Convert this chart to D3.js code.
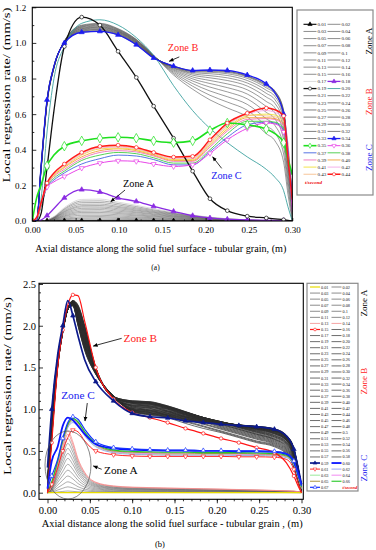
<!DOCTYPE html>
<html>
<head>
<meta charset="utf-8">
<script src="https://cdn.jsdelivr.net/npm/d3@7/dist/d3.min.js"></script>
<style>
	body { margin: 0; background: #fff; }
	svg, svg text { font-family: "Liberation Serif", "Times New Roman", serif; }
</style>
</head>
<body>
<svg id="fig" width="376" height="550" font-family="Liberation Serif"></svg>
<script>
// ---------- (a) ----------
var xA = [0, 0.005, 0.01, 0.017, 0.025, 0.037, 0.057, 0.078, 0.099, 0.12, 0.14, 0.163, 0.185, 0.205, 0.225, 0.248, 0.27, 0.28, 0.29, 0.295, 0.3];
var labelsA = ['0.01','0.02','0.03','0.04','0.05','0.06','0.07','0.08','0.09','0.1','0.11','0.12','0.13','0.14','0.15','0.16','0.17','0.18','0.19','0.20','0.21','0.22','0.23','0.24','0.25','0.26','0.27','0.28','0.29','0.30','0.31','0.32','0.33','0.34','0.35','0.36','0.37','0.38','0.39','0.40','0.41','0.42','0.43','0.44'];
// 0.01 .. 0.18 s
var rateA_zoneA = [
	[0,0,0,0,0,0.001,0.001,0.001,0.001,0.001,0.001,0,0,0,0,0,0,0,0,0,0],
	[0,0,0,0,0.001,0.003,0.005,0.005,0.004,0.004,0.003,0.002,0.001,0.001,0,0,0,0,0,0,0],
	[0,0,0,0.001,0.002,0.007,0.011,0.011,0.009,0.008,0.006,0.004,0.003,0.002,0.001,0,0,0,0,0,0],
	[0,0,0,0.001,0.004,0.011,0.017,0.018,0.015,0.013,0.01,0.007,0.005,0.003,0.002,0.001,0,0,0,0,0],
	[0,0,0,0.001,0.005,0.015,0.024,0.025,0.021,0.018,0.014,0.01,0.007,0.004,0.003,0.001,0,0,0,0,0],
	[0,0,0,0.002,0.007,0.02,0.032,0.032,0.028,0.023,0.018,0.013,0.009,0.006,0.003,0.002,0,0,0,0,0],
	[0,0,0,0.002,0.008,0.025,0.04,0.04,0.035,0.029,0.023,0.016,0.011,0.007,0.004,0.002,0.001,0,0,0,0],
	[0,0,0,0.002,0.01,0.029,0.048,0.048,0.042,0.034,0.027,0.02,0.013,0.008,0.005,0.002,0.001,0,0,0,0],
	[0,0,0,0.003,0.011,0.034,0.055,0.056,0.048,0.04,0.031,0.023,0.015,0.01,0.006,0.003,0.001,0,0,0,0],
	[0,0,0,0.003,0.013,0.039,0.063,0.064,0.055,0.046,0.036,0.026,0.018,0.011,0.007,0.003,0.001,0,0,0,0],
	[0,0,0,0.004,0.015,0.044,0.071,0.072,0.062,0.051,0.04,0.029,0.02,0.012,0.007,0.004,0.001,0,0,0,0],
	[0,0,0,0.004,0.016,0.049,0.079,0.079,0.069,0.057,0.045,0.032,0.022,0.014,0.008,0.004,0.002,0.001,0,0,0],
	[0,0,0,0.004,0.018,0.053,0.086,0.087,0.076,0.062,0.049,0.036,0.024,0.015,0.009,0.004,0.002,0.001,0,0,0],
	[0,0,0,0.005,0.019,0.058,0.094,0.095,0.082,0.068,0.053,0.039,0.026,0.016,0.01,0.005,0.002,0.001,0,0,0],
	[0,0,0,0.005,0.021,0.064,0.103,0.104,0.09,0.074,0.058,0.042,0.029,0.018,0.011,0.005,0.002,0.001,0.001,0,0],
	[0,0,0,0.006,0.023,0.069,0.112,0.113,0.098,0.081,0.063,0.046,0.031,0.02,0.012,0.006,0.002,0.001,0.001,0,0],
	[0,0,0,0.006,0.025,0.075,0.121,0.123,0.106,0.088,0.069,0.05,0.034,0.021,0.013,0.006,0.003,0.001,0.001,0,0],
	[0,0,0.005,0.03,0.07,0.13,0.176,0.163,0.13,0.11,0.082,0.054,0.03,0.017,0.01,0.006,0.004,0.003,0.002,0.001,0]
];
// 0.19 .. 0.34 s
var rateA_zoneB = [
	[0,0,0.04,0.3,0.62,0.98,1.145,1.1,0.953,0.806,0.645,0.465,0.28,0.125,0.058,0.027,0.017,0.012,0.007,0.004,0],
	[0,0,0.12,0.5,0.8,0.98,1.11,1.13,1.1,1.03,0.93,0.76,0.62,0.52,0.44,0.36,0.29,0.245,0.17,0.08,0],
	[0,0,0.28,0.66,0.86,1.01,1.1,1.11,1.08,1.02,0.93,0.82,0.74,0.68,0.635,0.585,0.49,0.45,0.33,0.15,0],
	[0,0,0.28,0.66,0.86,1.01,1.097,1.106,1.077,1.018,0.929,0.828,0.757,0.706,0.668,0.622,0.534,0.495,0.376,0.19,0.019],
	[0,0,0.28,0.663,0.86,1.009,1.093,1.103,1.074,1.015,0.928,0.835,0.772,0.73,0.698,0.655,0.574,0.536,0.419,0.226,0.037],
	[0,0,0.285,0.665,0.862,1.008,1.09,1.099,1.071,1.013,0.926,0.842,0.786,0.752,0.725,0.686,0.61,0.573,0.457,0.259,0.053],
	[0,0,0.285,0.667,0.863,1.007,1.087,1.095,1.068,1.01,0.925,0.848,0.798,0.772,0.749,0.713,0.643,0.606,0.491,0.289,0.067],
	[0,0,0.29,0.668,0.864,1.006,1.083,1.091,1.065,1.008,0.924,0.853,0.809,0.789,0.77,0.737,0.671,0.635,0.521,0.315,0.079],
	[0,0,0.29,0.67,0.865,1.005,1.08,1.088,1.063,1.005,0.923,0.858,0.819,0.804,0.789,0.758,0.696,0.66,0.548,0.338,0.09],
	[0,0,0.29,0.672,0.866,1.004,1.077,1.084,1.06,1.003,0.921,0.861,0.827,0.816,0.804,0.775,0.717,0.681,0.57,0.357,0.099],
	[0,0,0.295,0.673,0.867,1.003,1.073,1.08,1.057,1.0,0.92,0.864,0.833,0.827,0.817,0.789,0.734,0.699,0.588,0.372,0.107],
	[0,0,0.295,0.675,0.868,1.002,1.07,1.076,1.054,0.998,0.919,0.867,0.838,0.835,0.827,0.801,0.748,0.713,0.602,0.384,0.113],
	[0,0,0.3,0.677,0.869,1.002,1.067,1.073,1.051,0.995,0.918,0.869,0.842,0.84,0.834,0.809,0.757,0.722,0.612,0.393,0.117],
	[0,0,0.3,0.678,0.87,1.001,1.063,1.069,1.048,0.993,0.916,0.87,0.844,0.844,0.839,0.813,0.763,0.728,0.618,0.398,0.119],
	[0,0,0.3,0.68,0.87,1.0,1.06,1.065,1.045,0.99,0.915,0.87,0.845,0.845,0.84,0.815,0.765,0.73,0.62,0.4,0.12],
	[0,0,0.3,0.68,0.87,1.0,1.06,1.065,1.045,0.99,0.915,0.87,0.845,0.848,0.845,0.82,0.77,0.72,0.6,0.39,0.13]
];
// 0.35 .. 0.44 s
var rateA_zoneC = [
	[0,0.13,0.2,0.31,0.37,0.42,0.45,0.465,0.47,0.465,0.45,0.44,0.45,0.508,0.55,0.54,0.516,0.49,0.44,0.35,0.26],
	[0,0.02,0.1,0.19,0.22,0.25,0.297,0.325,0.338,0.335,0.32,0.306,0.316,0.38,0.456,0.52,0.55,0.545,0.5,0.38,0.05],
	[0,0.01,0.08,0.19,0.23,0.27,0.32,0.35,0.37,0.365,0.345,0.315,0.315,0.39,0.47,0.54,0.555,0.55,0.51,0.38,0.08],
	[0,0.01,0.085,0.195,0.24,0.28,0.34,0.37,0.385,0.378,0.355,0.325,0.325,0.4,0.49,0.56,0.56,0.555,0.52,0.38,0.08],
	[0,0.01,0.09,0.2,0.25,0.29,0.35,0.385,0.395,0.388,0.365,0.335,0.335,0.415,0.505,0.57,0.575,0.57,0.535,0.4,0.09],
	[0,0.012,0.09,0.2,0.255,0.3,0.36,0.395,0.405,0.395,0.37,0.34,0.34,0.425,0.515,0.58,0.58,0.575,0.545,0.41,0.09],
	[0,0.015,0.095,0.205,0.26,0.305,0.37,0.405,0.41,0.4,0.375,0.345,0.345,0.435,0.525,0.59,0.6,0.595,0.56,0.42,0.1],
	[0,0.015,0.095,0.205,0.265,0.31,0.375,0.41,0.415,0.405,0.378,0.35,0.35,0.44,0.535,0.6,0.62,0.61,0.575,0.43,0.1],
	[0,0.018,0.1,0.21,0.268,0.315,0.38,0.415,0.42,0.408,0.38,0.355,0.355,0.445,0.54,0.595,0.59,0.585,0.56,0.43,0.1],
	[0,0.02,0.1,0.213,0.27,0.32,0.385,0.419,0.426,0.413,0.385,0.359,0.363,0.456,0.55,0.605,0.634,0.625,0.59,0.35,0.12]
];
var xTicksA = [0, 0.05, 0.1, 0.15, 0.2, 0.25, 0.3];
var yTicksA = [0, 0.2, 0.4, 0.6, 0.8, 1.0, 1.2];

// ---------- (b) ----------
var xB = [0, 0.005, 0.012, 0.018, 0.024, 0.03, 0.036, 0.044, 0.057, 0.078, 0.1, 0.121, 0.142, 0.163, 0.184, 0.205, 0.226, 0.247, 0.268, 0.282, 0.291, 0.296, 0.3];
var labelsB = ['0.01','0.02','0.03','0.04','0.05','0.06','0.07','0.08','0.09','0.1','0.11','0.12','0.13','0.14','0.15','0.16','0.17','0.18','0.19','0.20','0.21','0.22','0.23','0.24','0.25','0.26','0.27','0.28','0.29','0.30','0.31','0.32','0.33','0.34','0.35','0.36','0.37','0.38','0.39','0.40','0.41','0.42','0.43','0.44','0.45','0.46','0.47','0.48','0.49','0.5','0.51','0.52','0.53','0.54','0.55','0.56','0.57','0.58','0.59','0.60','0.61','0.62','0.63','0.64','0.65','0.66','0.67'];
// 0.01 .. 0.14 s
var rateB_zoneA = [
	[0,0,0,0,0,0,0,0,0,0,0,0,0,0,0,0,0,0,0,0,0,0,0],
	[0,0.002,0.009,0.015,0.02,0.016,0.011,0.007,0.003,0.002,0.002,0.002,0.002,0.001,0.001,0.001,0.001,0.001,0.001,0.001,0,0,0],
	[0,0.007,0.032,0.053,0.07,0.057,0.039,0.023,0.012,0.008,0.006,0.006,0.005,0.005,0.004,0.004,0.004,0.003,0.003,0.002,0.002,0.001,0.001],
	[0,0.013,0.059,0.098,0.13,0.107,0.072,0.043,0.022,0.014,0.012,0.011,0.01,0.009,0.008,0.008,0.007,0.006,0.005,0.004,0.003,0.002,0.001],
	[0,0.02,0.09,0.15,0.2,0.164,0.11,0.066,0.034,0.022,0.018,0.016,0.015,0.014,0.013,0.012,0.01,0.009,0.007,0.006,0.005,0.004,0.002],
	[0,0.027,0.122,0.203,0.27,0.221,0.149,0.089,0.046,0.03,0.024,0.022,0.021,0.019,0.017,0.016,0.014,0.012,0.01,0.008,0.007,0.005,0.003],
	[0,0.034,0.153,0.255,0.34,0.279,0.187,0.112,0.058,0.037,0.031,0.028,0.026,0.024,0.022,0.02,0.018,0.015,0.013,0.01,0.009,0.006,0.003],
	[0,0.041,0.185,0.308,0.41,0.336,0.226,0.135,0.07,0.045,0.037,0.034,0.031,0.029,0.026,0.024,0.021,0.018,0.015,0.012,0.01,0.007,0.004],
	[0,0.047,0.212,0.353,0.47,0.385,0.259,0.155,0.08,0.052,0.042,0.039,0.036,0.033,0.03,0.027,0.024,0.021,0.017,0.014,0.012,0.008,0.005],
	[0,0.053,0.239,0.398,0.53,0.435,0.292,0.175,0.09,0.058,0.048,0.043,0.04,0.037,0.034,0.031,0.028,0.024,0.02,0.016,0.013,0.01,0.005],
	[0,0.059,0.266,0.443,0.59,0.484,0.325,0.195,0.1,0.065,0.053,0.048,0.045,0.041,0.038,0.034,0.031,0.027,0.022,0.018,0.015,0.011,0.006],
	[0,0.065,0.293,0.488,0.65,0.533,0.358,0.215,0.111,0.072,0.059,0.053,0.049,0.046,0.042,0.038,0.034,0.029,0.024,0.02,0.016,0.012,0.007],
	[0,0.07,0.315,0.525,0.7,0.574,0.385,0.231,0.119,0.077,0.063,0.057,0.053,0.049,0.045,0.041,0.036,0.032,0.026,0.021,0.018,0.013,0.007],
	[0,0.074,0.333,0.555,0.74,0.607,0.407,0.244,0.126,0.081,0.067,0.061,0.056,0.052,0.047,0.043,0.038,0.033,0.027,0.022,0.019,0.013,0.007]
];
// 0.15 .. 0.59 s
var rateB_zoneB = [
	[0,0.6,1.5,1.95,2.25,2.37,2.36,2.05,1.5,1.12,0.96,0.9,0.84,0.77,0.71,0.65,0.6,0.54,0.48,0.36,0.2,0.08,0],
	[0,.65,1.5,1.92,2.2,2.3,2.25,2.0,1.5,1.14,1.0,.96,.9,.83,.77,.72,.66,.6,.55,.46,.3,.12,0],
	[0,.66,1.5,1.92,2.2,2.3,2.24,1.99,1.5,1.14,1.01,.98,.92,.85,.79,.73,.67,.61,.56,.47,.31,.13,0],
	[0,.66,1.51,1.92,2.2,2.3,2.24,1.99,1.5,1.14,1.03,.99,.93,.86,.8,.74,.68,.62,.57,.48,.32,.13,0],
	[.01,.67,1.51,1.92,2.2,2.3,2.23,1.98,1.49,1.14,1.04,1.01,.95,.88,.82,.76,.7,.64,.58,.49,.33,.14,0],
	[.01,.68,1.51,1.92,2.2,2.29,2.23,1.97,1.49,1.14,1.05,1.03,.97,.9,.83,.77,.71,.65,.59,.5,.34,.15,.01],
	[.01,.69,1.51,1.93,2.2,2.29,2.22,1.96,1.49,1.14,1.07,1.04,.98,.91,.85,.78,.72,.66,.6,.51,.35,.15,.01],
	[.01,.69,1.52,1.93,2.2,2.29,2.21,1.96,1.49,1.14,1.08,1.06,1.0,.93,.86,.79,.73,.67,.61,.52,.36,.16,.01],
	[.02,.7,1.52,1.93,2.2,2.29,2.21,1.95,1.49,1.14,1.08,1.07,1.01,.94,.87,.8,.74,.68,.62,.53,.37,.17,.01],
	[.02,.71,1.52,1.93,2.2,2.29,2.2,1.94,1.48,1.14,1.09,1.07,1.01,.94,.87,.81,.75,.69,.63,.54,.38,.17,.01],
	[.02,.71,1.53,1.93,2.2,2.29,2.2,1.94,1.48,1.14,1.09,1.08,1.02,.95,.88,.82,.76,.7,.64,.55,.39,.18,.02],
	[.02,.72,1.53,1.93,2.2,2.29,2.19,1.93,1.48,1.14,1.09,1.08,1.03,.96,.89,.82,.76,.7,.64,.56,.4,.19,.02],
	[.03,.73,1.53,1.93,2.2,2.28,2.18,1.92,1.48,1.15,1.1,1.09,1.03,.96,.89,.83,.77,.71,.65,.57,.41,.19,.02],
	[.03,.74,1.53,1.93,2.2,2.28,2.18,1.91,1.48,1.15,1.1,1.09,1.04,.97,.9,.84,.78,.72,.66,.58,.42,.2,.03],
	[.03,.74,1.54,1.94,2.2,2.28,2.17,1.91,1.48,1.15,1.1,1.085,1.04,.97,.9,.84,.78,.725,.67,.59,.43,.21,.03],
	[.03,.75,1.54,1.94,2.2,2.28,2.17,1.9,1.47,1.15,1.09,1.08,1.035,.97,.9,.84,.785,.73,.67,.59,.43,.21,.03],
	[.04,.76,1.54,1.94,2.2,2.28,2.16,1.89,1.47,1.15,1.09,1.075,1.03,.965,.9,.845,.79,.735,.68,.6,.44,.22,.03],
	[.04,.76,1.55,1.94,2.2,2.28,2.15,1.89,1.47,1.15,1.08,1.07,1.03,.965,.9,.845,.79,.74,.685,.605,.445,.22,.04],
	[.04,.77,1.55,1.94,2.2,2.28,2.15,1.88,1.47,1.15,1.08,1.065,1.03,.965,.9,.845,.79,.745,.69,.61,.45,.23,.04],
	[.04,.78,1.55,1.94,2.2,2.27,2.14,1.87,1.47,1.15,1.07,1.06,1.025,.96,.9,.85,.795,.75,.7,.62,.46,.24,.04],
	[.05,.79,1.55,1.94,2.2,2.27,2.14,1.86,1.46,1.15,1.07,1.055,1.02,.96,.9,.85,.8,.755,.705,.625,.465,.24,.05],
	[.05,.79,1.56,1.94,2.2,2.27,2.13,1.86,1.46,1.15,1.06,1.05,1.02,.96,.9,.85,.8,.76,.71,.63,.47,.25,.05],
	[.05,.8,1.56,1.95,2.2,2.27,2.13,1.85,1.46,1.15,1.05,1.04,1.01,.96,.9,.85,.8,.76,.71,.63,.47,.25,.05],
	[.05,.81,1.56,1.95,2.2,2.27,2.12,1.84,1.46,1.15,1.05,1.04,1.01,.95,.9,.85,.8,.765,.715,.635,.475,.26,.05],
	[.05,.81,1.57,1.95,2.2,2.27,2.11,1.84,1.46,1.15,1.04,1.03,1.0,.95,.89,.85,.805,.765,.72,.64,.48,.26,.05],
	[.06,.82,1.57,1.95,2.2,2.27,2.11,1.83,1.45,1.15,1.04,1.02,1.0,.94,.89,.845,.805,.77,.72,.64,.48,.26,.05],
	[.06,.83,1.57,1.95,2.2,2.26,2.1,1.82,1.45,1.15,1.03,1.02,.99,.94,.89,.845,.805,.77,.725,.645,.485,.265,.05],
	[.06,.84,1.57,1.95,2.2,2.26,2.1,1.81,1.45,1.15,1.02,1.01,.98,.94,.89,.845,.805,.77,.73,.65,.49,.27,.06],
	[.06,.84,1.58,1.95,2.2,2.26,2.09,1.81,1.45,1.15,1.02,1.0,.98,.93,.89,.845,.81,.775,.73,.65,.49,.27,.06],
	[.07,.85,1.58,1.95,2.2,2.26,2.08,1.8,1.45,1.15,1.01,.99,.97,.93,.88,.84,.81,.775,.735,.655,.495,.275,.06],
	[.07,.86,1.58,1.95,2.2,2.26,2.08,1.79,1.44,1.15,1.01,.99,.97,.92,.88,.84,.81,.78,.74,.66,.5,.28,.06],
	[.07,.86,1.59,1.96,2.2,2.26,2.07,1.79,1.44,1.15,1.0,.98,.96,.92,.88,.84,.81,.78,.74,.66,.5,.28,.06],
	[.07,.87,1.59,1.96,2.2,2.26,2.07,1.78,1.44,1.15,1.0,.98,.955,.915,.88,.84,.81,.78,.74,.66,.5,.28,.06],
	[.08,.88,1.59,1.96,2.2,2.25,2.06,1.77,1.44,1.16,.995,.97,.95,.91,.87,.84,.81,.78,.745,.665,.505,.285,.06],
	[.08,.89,1.59,1.96,2.2,2.25,2.05,1.76,1.44,1.16,.99,.97,.945,.905,.87,.835,.81,.785,.745,.67,.51,.285,.07],
	[.08,.89,1.6,1.96,2.2,2.25,2.05,1.76,1.44,1.16,.99,.96,.94,.905,.87,.835,.81,.785,.75,.67,.51,.285,.07],
	[.08,.9,1.6,1.96,2.2,2.25,2.04,1.75,1.43,1.16,.99,.96,.935,.9,.87,.835,.81,.785,.75,.67,.51,.29,.07],
	[.09,.91,1.6,1.96,2.2,2.25,2.04,1.74,1.43,1.16,.985,.955,.93,.895,.86,.835,.81,.79,.75,.675,.515,.29,.07],
	[.09,.91,1.61,1.96,2.2,2.25,2.03,1.74,1.43,1.16,.98,.95,.93,.89,.86,.83,.81,.79,.755,.68,.52,.29,.07],
	[.09,.92,1.61,1.97,2.2,2.25,2.02,1.73,1.43,1.16,.98,.945,.925,.885,.86,.83,.81,.79,.755,.68,.52,.295,.07],
	[.09,.93,1.61,1.97,2.2,2.24,2.02,1.72,1.43,1.16,.98,.94,.92,.88,.855,.83,.81,.79,.76,.68,.52,.295,.08],
	[.1,.94,1.61,1.97,2.2,2.24,2.01,1.71,1.42,1.16,.975,.94,.915,.88,.85,.83,.81,.795,.76,.685,.525,.3,.08],
	[.1,.94,1.62,1.97,2.2,2.24,2.01,1.71,1.42,1.16,.97,.935,.91,.875,.85,.825,.81,.795,.765,.69,.53,.3,.08],
	[.1,.95,1.62,1.97,2.2,2.24,2.0,1.7,1.42,1.16,.97,.93,.905,.87,.845,.825,.81,.795,.765,.69,.53,.3,.08],
	[0.3,1.0,1.65,2.0,2.3,2.12,1.88,1.59,1.33,1.1,0.95,0.91,0.895,0.86,0.84,0.82,0.805,0.79,0.76,0.68,0.52,0.3,0.1]
];
// 0.60 .. 0.67 s
var rateB_zoneC = [
	[0.05,0.38,0.55,0.8,0.9,0.87,0.8,0.7,0.58,0.53,0.515,0.51,0.505,0.505,0.5,0.5,0.495,0.495,0.49,0.465,0.37,0.23,0.1],
	[0,0.1,0.3,0.5,0.66,0.75,0.73,0.62,0.5,0.455,0.44,0.435,0.435,0.435,0.435,0.435,0.43,0.43,0.425,0.4,0.28,0.12,0],
	[0,0.12,0.35,0.6,0.78,0.84,0.8,0.68,0.55,0.48,0.46,0.455,0.45,0.45,0.45,0.45,0.445,0.445,0.44,0.42,0.33,0.18,0.05],
	[0,0.12,0.36,0.6,0.79,0.86,0.82,0.7,0.56,0.49,0.47,0.465,0.46,0.46,0.46,0.46,0.455,0.455,0.45,0.43,0.34,0.19,0.05],
	[0,0.12,0.36,0.61,0.8,0.87,0.83,0.71,0.57,0.495,0.475,0.47,0.465,0.465,0.465,0.465,0.46,0.46,0.455,0.435,0.35,0.2,0.06],
	[0,0.12,0.37,0.62,0.81,0.88,0.84,0.72,0.58,0.5,0.485,0.48,0.475,0.475,0.47,0.47,0.47,0.465,0.46,0.44,0.35,0.2,0.06],
	[0,0.13,0.38,0.63,0.82,0.89,0.85,0.73,0.59,0.51,0.495,0.49,0.485,0.485,0.48,0.48,0.48,0.475,0.47,0.45,0.36,0.21,0.07],
	[0.05,0.2,0.4,0.65,0.84,0.91,0.88,0.76,0.61,0.54,0.525,0.515,0.51,0.51,0.505,0.505,0.5,0.5,0.495,0.47,0.38,0.22,0.08]
];
var xTicksB = [0, 0.05, 0.1, 0.15, 0.2, 0.25, 0.3];
var yTicksB = [0, 0.5, 1.0, 1.5, 2.0, 2.5];

// ---------- styles ----------
var styleA = {
	'0.01': {c: '#000', w: 1.1, m: 'tri', f: true, z: 3},
	'0.17': {c: '#cdcdcd', w: 0.7, z: 1},
	'0.18': {c: '#8a2be2', w: 1.3, m: 'tri', f: true, z: 3},
	'0.19': {c: '#111', w: 1.3, m: 'circle', f: false, z: 3},
	'0.20': {c: '#3fa3a0', w: 0.9, z: 2},
	'0.34': {c: '#1c1cf0', w: 1.3, m: 'tri', f: true, z: 3},
	'0.35': {c: '#1ee01e', w: 1.6, m: 'diamond', f: false, z: 4, s: 26},
	'0.36': {c: '#e845e8', w: 1, m: 'tridown', f: false, z: 3},
	'0.37': {c: '#4464e0', w: 0.9, z: 2},
	'0.38': {c: '#44cc44', w: 0.9, z: 2},
	'0.39': {c: '#f070b8', w: 0.9, z: 2},
	'0.40': {c: '#f3a23a', w: 0.9, z: 2},
	'0.41': {c: '#f2e03a', w: 0.9, z: 2},
	'0.42': {c: '#f4a8e6', w: 0.9, z: 2},
	'0.43': {c: '#f6bf8c', w: 0.9, z: 2},
	'0.44': {c: '#ff1a1a', w: 1.5, m: 'circle', f: false, z: 4}
};
function getStyleA(lab) {
	if(styleA[lab]) return styleA[lab];
	if(+lab < 0.17) return {c: '#5c5c5c', w: 0.5, z: 0};
	return {c: '#474747', w: 0.55, z: 1};
}
var styleB = {
	'0.01': {c: '#e8dc00', w: 1.2, z: 2},
	'0.13': {c: '#f28b8b', w: 0.8, z: 1},
	'0.14': {c: '#f28b8b', w: 0.8, z: 1},
	'0.15': {c: '#ff1515', w: 1.2, m: 'circle', f: false, z: 3},
	'0.59': {c: '#0d1a8c', w: 1.7, m: 'tri', f: true, z: 3},
	'0.60': {c: '#0a14ff', w: 1.8, z: 3},
	'0.61': {c: '#ff2525', w: 1.0, m: 'tridown', f: false, z: 3},
	'0.62': {c: '#8d9bf0', w: 0.9, z: 2},
	'0.63': {c: '#8fe68f', w: 0.9, z: 2},
	'0.64': {c: '#f07df0', w: 0.9, z: 2},
	'0.65': {c: '#a08a2c', w: 0.9, z: 2},
	'0.66': {c: '#25c825', w: 1.1, z: 2},
	'0.67': {c: '#1733ff', w: 1.2, m: 'tri', f: false, z: 4}
};
function getStyleB(lab) {
	if(styleB[lab]) return styleB[lab];
	if(+lab < 0.13) return {c: '#5a5a5a', w: 0.5, z: 0};
	return {c: '#2e2e2e', w: 0.7, z: 1};
}

var FONT = '"Liberation Serif", "Times New Roman", serif';
var svg = d3.select('#fig');
var defs = svg.append('defs');
defs.append('marker').attr('id', 'arr').attr('viewBox', '0 0 10 10')
	.attr('refX', 9).attr('refY', 5).attr('markerWidth', 6).attr('markerHeight', 6)
	.attr('orient', 'auto')
	.append('path').attr('d', 'M0,1L10,5L0,9z').attr('fill', '#000');

function symbolPath(kind, size) {
	var type = kind === 'circle' ? d3.symbolCircle : kind === 'diamond' ? d3.symbolDiamond : d3.symbolTriangle;
	return d3.symbol().type(type).size(size)();
}

function drawPanel(o) {
	var x = d3.scaleLinear().domain([0, 0.3]).range(o.xRange);
	var y = d3.scaleLinear().domain(o.yDomain).range(o.yRange);
	var fr = o.frame;
	var g = svg.append('g').attr('font-family', FONT);

	defs.append('clipPath').attr('id', 'clip' + o.name).append('rect')
		.attr('x', fr.x0).attr('y', fr.y0 - 2).attr('width', fr.x1 - fr.x0).attr('height', fr.y1 - fr.y0 + 2);

	var series = o.labels.map(function(lab, i) {
		return {label: lab, values: o.rates[i], st: o.style(lab)};
	});
	var order = series.slice().sort(function(a, b) { return a.st.z - b.st.z; });
	var line = d3.line()
		.x(function(d, i) { return x(o.grid[i]); })
		.y(function(d) { return y(d); })
		.curve(d3.curveMonotoneX);

	var plot = g.append('g').attr('clip-path', 'url(#clip' + o.name + ')');
	var s = plot.selectAll('g.s').data(order).enter().append('g').attr('class', 's');
	s.append('path')
		.attr('d', function(d) { return line(d.values); })
		.attr('fill', 'none')
		.attr('stroke', function(d) { return d.st.c; })
		.attr('stroke-width', function(d) { return d.st.w; })
		.attr('stroke-linejoin', 'round');
	s.filter(function(d) { return d.st.m; }).each(function(d) {
		var pts = o.markIdx.map(function(k) { return [o.grid[k], d.values[k]]; });
		d3.select(this).selectAll('path.mk').data(pts).enter().append('path')
			.attr('class', 'mk')
			.attr('d', symbolPath(d.st.m, d.st.s || o.mSize))
			.attr('transform', function(p) {
				return 'translate(' + x(p[0]) + ',' + y(p[1]) + ')' + (d.st.m === 'tridown' ? ' rotate(180)' : '');
			})
			.attr('fill', d.st.f ? d.st.c : '#fff')
			.attr('stroke', d.st.c)
			.attr('stroke-width', 0.7);
	});

	// axes
	var xAxis = d3.axisBottom(x).tickValues(o.xTicks).tickFormat(d3.format('.2f'))
		.tickSizeInner(o.xTickLen).tickSizeOuter(0).tickPadding(o.xPad);
	var xMinor = d3.axisBottom(x).tickValues(o.xMinor).tickFormat('')
		.tickSizeInner(o.xTickLen / 2).tickSizeOuter(0);
	var yAxis = d3.axisLeft(y).tickValues(o.yTicks).tickFormat(d3.format('.1f'))
		.tickSizeInner(-4).tickSizeOuter(0).tickPadding(o.yPad);
	var yMinor = d3.axisLeft(y).tickValues(o.yMinor).tickFormat('')
		.tickSizeInner(-2).tickSizeOuter(0);
	[xMinor, xAxis].forEach(function(ax) {
		g.append('g').attr('transform', 'translate(0,' + fr.y1 + ')').call(ax);
	});
	[yMinor, yAxis].forEach(function(ax) {
		g.append('g').attr('transform', 'translate(' + fr.x0 + ',0)').call(ax);
	});
	g.selectAll('.domain').remove();
	g.selectAll('.tick line').attr('stroke', '#000').attr('stroke-width', 0.8);
	g.selectAll('.tick').each(function() { d3.select(this.parentNode).attr('font-family', FONT); });
	g.selectAll('.tick text').attr('fill', '#000').attr('font-size', o.tickFont).attr('font-family', FONT);

	g.append('rect').attr('x', fr.x0).attr('y', fr.y0)
		.attr('width', fr.x1 - fr.x0).attr('height', fr.y1 - fr.y0)
		.attr('fill', 'none').attr('stroke', '#000').attr('stroke-width', 1.1);

	// titles
	g.append('text').attr('x', (fr.x0 + fr.x1) / 2 + o.xTitleShift).attr('y', o.xTitleY)
		.attr('text-anchor', 'middle').attr('font-size', o.titleFont)
		.attr('textLength', o.xTitleLen).attr('lengthAdjust', 'spacingAndGlyphs')
		.text(o.xTitle);
	g.append('text').attr('transform', 'translate(' + o.yTitlePos[0] + ',' + o.yTitlePos[1] + ') rotate(-90)')
		.attr('text-anchor', 'middle').attr('font-size', o.titleFont)
		.attr('textLength', o.yTitleLen).attr('lengthAdjust', 'spacingAndGlyphs')
		.text('Local regression rate/ (mm/s)');
	g.append('text').attr('x', o.tag[0]).attr('y', o.tag[1]).attr('text-anchor', 'middle')
		.attr('font-size', o.tag[2]).text(o.tag[3]);

	// zone annotations
	o.notes.forEach(function(n) {
		g.append('text').attr('x', x(n.at[0])).attr('y', y(n.at[1])).attr('text-anchor', 'middle')
			.attr('font-size', o.noteFont).attr('fill', n.c).text(n.t);
		g.append('line').attr('x1', x(n.from[0])).attr('y1', y(n.from[1]))
			.attr('x2', x(n.to[0])).attr('y2', y(n.to[1]))
			.attr('stroke', '#000').attr('stroke-width', 0.8).attr('marker-end', 'url(#arr)');
	});
	if(o.ellipse) {
		g.append('ellipse').attr('cx', x(o.ellipse[0])).attr('cy', y(o.ellipse[1]))
			.attr('rx', o.ellipse[2]).attr('ry', o.ellipse[3])
			.attr('fill', 'none').attr('stroke', '#555').attr('stroke-width', 0.7);
	}

	// legend
	var L = o.legend;
	var lg = g.append('g');
	lg.append('rect').attr('x', L.box[0]).attr('y', L.box[1]).attr('width', L.box[2] - L.box[0])
		.attr('height', L.box[3] - L.box[1]).attr('fill', '#fff').attr('stroke', '#8a8a8a').attr('stroke-width', 1.2);
	var item = lg.selectAll('g.it').data(series).enter().append('g')
		.attr('transform', function(d, i) {
			return 'translate(' + L.cols[i % 2] + ',' + (L.y0 + Math.floor(i / 2) * L.dy) + ')';
		});
	item.append('line').attr('x1', 0).attr('x2', L.lineLen).attr('y1', 0).attr('y2', 0)
		.attr('stroke', function(d) { return d.st.c; })
		.attr('stroke-width', function(d) { return Math.max(0.7, d.st.w); });
	item.filter(function(d) { return d.st.m; }).append('path')
		.attr('d', function(d) { return symbolPath(d.st.m, L.mSize); })
		.attr('transform', function(d) { return 'translate(' + L.lineLen / 2 + ',0)' + (d.st.m === 'tridown' ? ' rotate(180)' : ''); })
		.attr('fill', function(d) { return d.st.f ? d.st.c : '#fff'; })
		.attr('stroke', function(d) { return d.st.c; }).attr('stroke-width', 0.6);
	item.append('text').attr('x', L.lineLen + 1).attr('y', 0).attr('dy', '0.35em')
		.attr('font-size', L.font).attr('fill', '#222').text(function(d) { return d.label; });
	lg.append('text').attr('x', L.unit[0]).attr('y', L.unit[1]).attr('dy', '0.35em')
		.attr('font-size', L.font).attr('fill', '#e00').attr('font-style', 'italic').attr('font-weight', 'bold')
		.text('t/second');
	L.zones.forEach(function(z) {
		lg.append('text').attr('transform', 'translate(' + z.x + ',' + z.y + ') rotate(-90)')
			.attr('text-anchor', 'middle').attr('font-size', L.zoneFont).attr('fill', z.c).text(z.t);
	});
}

drawPanel({
	name: 'a', grid: xA, labels: labelsA,
	rates: rateA_zoneA.concat(rateA_zoneB, rateA_zoneC),
	style: getStyleA,
	xRange: [32.3, 292.3], yDomain: [0, 1.2], yRange: [221, 7.3],
	frame: {x0: 32.3, x1: 292.3, y0: 7.3, y1: 221},
	markIdx: [3, 5, 6, 7, 8, 9, 10, 11, 12, 13, 14, 15, 16, 18], mSize: 11,
	xTicks: xTicksA, xMinor: [0.025, 0.075, 0.125, 0.175, 0.225, 0.275], xTickLen: -3, xPad: 6,
	yTicks: yTicksA, yMinor: [0.1, 0.3, 0.5, 0.7, 0.9, 1.1], yPad: 6,
	tickFont: 9, titleFont: 10,
	xTitle: 'Axial distance along the solid fuel surface - tubular grain, (m)',
	xTitleY: 251.5, xTitleLen: 251, xTitleShift: -1.5,
	yTitlePos: [9.5, 95], yTitleLen: 175,
	tag: [155.5, 270, 7.5, '(a)'],
	noteFont: 10.3,
	notes: [
		{t: 'Zone B', c: '#ff1a1a', at: [0.174, 0.953], from: [0.1696, 0.9215], to: [0.158, 0.897]},
		{t: 'Zone C', c: '#2020f0', at: [0.224, 0.238], from: [0.2185, 0.2956], to: [0.2081, 0.3606]},
		{t: 'Zone A', c: '#000', at: [0.1223, 0.1935], from: [0.107, 0.174], to: [0.0905, 0.108]}
	],
	legend: {
		box: [297, 10, 373, 195], cols: [303.5, 327.5], y0: 24.3, dy: 7.14, lineLen: 13, mSize: 8,
		font: 5, unit: [305, 182.7],
		zoneFont: 9,
		zones: [{t: 'Zone A', c: '#000', x: 372, y: 41}, {t: 'Zone B', c: '#ff1a1a', x: 372, y: 101.5}, {t: 'Zone C', c: '#2020f0', x: 372, y: 157.5}]
	}
});

drawPanel({
	name: 'b', grid: xB, labels: labelsB,
	rates: rateB_zoneA.concat(rateB_zoneB, rateB_zoneC),
	style: getStyleB,
	xRange: [47.5, 301.5], yDomain: [0, 2.5], yRange: [492.7, 284],
	frame: {x0: 39, x1: 303.3, y0: 283.3, y1: 499.3},
	markIdx: [1, 3, 5, 8, 9, 10, 11, 12, 13, 14, 15, 16, 17, 18, 20], mSize: 9,
	xTicks: xTicksB, xMinor: d3.range(1, 30).map(function(i) { return i / 100; }), xTickLen: 4, xPad: 3,
	yTicks: yTicksB, yMinor: [0.1,0.2,0.3,0.4,0.6,0.7,0.8,0.9,1.1,1.2,1.3,1.4,1.6,1.7,1.8,1.9,2.1,2.2,2.3,2.4], yPad: 3,
	tickFont: 10.5, titleFont: 10.5,
	xTitle: 'Axial distance along the solid fuel surface - tubular grain , (m)',
	xTitleY: 527, xTitleLen: 261, xTitleShift: 1,
	yTitlePos: [10.5, 386], yTitleLen: 178,
	tag: [160, 547, 8.5, '(b)'],
	noteFont: 11.3,
	notes: [
		{t: 'Zone B', c: '#ff1a1a', at: [0.1096, 1.805], from: [0.0876, 1.849], to: [0.0541, 1.757]},
		{t: 'Zone C', c: '#2020f0', at: [0.036, 1.122], from: [0.047, 1.074], to: [0.0443, 0.859]},
		{t: 'Zone A', c: '#000', at: [0.0866, 0.224], from: [0.064, 0.28], to: [0.0541, 0.32]}
	],
	ellipse: [0.0242, 0.332, 23, 34],
	legend: {
		box: [307, 283.3, 358, 491], cols: [310, 331.5], y0: 287, dy: 6.07, lineLen: 10, mSize: 6,
		font: 4.3, unit: [342.5, 487.1],
		zoneFont: 9,
		zones: [{t: 'Zone A', c: '#000', x: 367, y: 303}, {t: 'Zone B', c: '#ff1a1a', x: 367, y: 381}, {t: 'Zone C', c: '#2020f0', x: 367, y: 468}]
	}
});
</script>
</body>
</html>
